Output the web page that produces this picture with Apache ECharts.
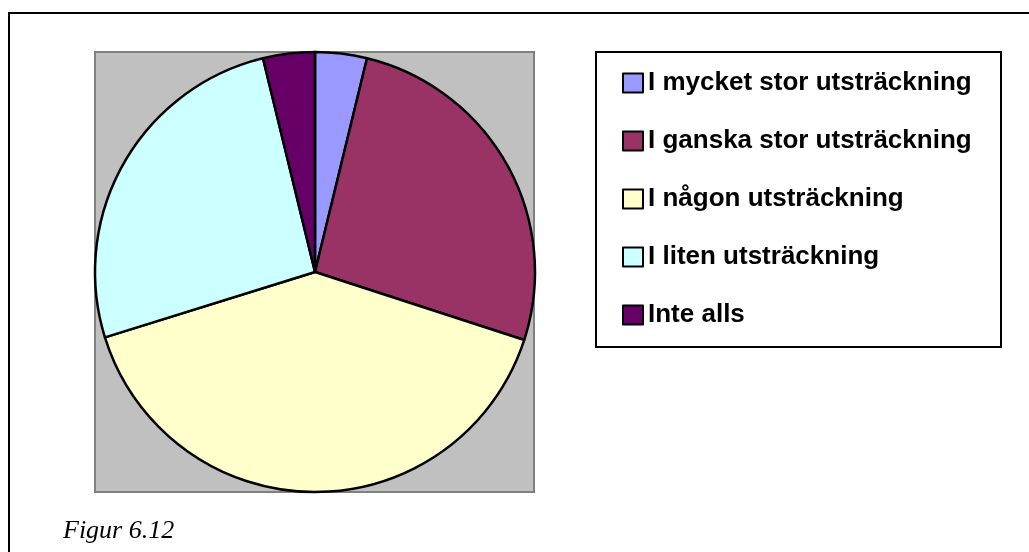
<!DOCTYPE html>
<html>
<head>
<meta charset="utf-8">
<script src="https://cdn.jsdelivr.net/npm/echarts@6/dist/echarts.min.js"></script>
<style>
  html, body { margin: 0; padding: 0; background: #fff; }
  #chart { width: 1029px; height: 552px; }
</style>
</head>
<body>
<div id="chart"></div>
<script>
// svarskategorier och andelar (%)
const categories = [
  'I mycket stor utsträckning',
  'I ganska stor utsträckning',
  'I någon utsträckning',
  'I liten utsträckning',
  'Inte alls'
]
const shares = [3.8, 26.2, 40.2, 26.0, 3.8]
const colors = ['#9999FF', '#993366', '#FFFFCC', '#CCFFFF', '#660066']
const caption = 'Figur 6.12'

const chart = echarts.init(document.getElementById('chart'))

chart.setOption({
  animation: false,
  backgroundColor: '#fff',
  color: colors,
  graphic: [
    // yttre ram (bara övre och vänster kant syns)
    {
      type: 'rect',
      shape: { x: 9, y: 13, width: 1100, height: 600 },
      style: { fill: 'none', stroke: '#000', lineWidth: 2 },
      z: 0
    },
    // grå plotyta
    {
      type: 'rect',
      shape: { x: 95, y: 52, width: 439, height: 440 },
      style: { fill: '#C0C0C0', stroke: '#808080', lineWidth: 2 },
      z: 0
    },
    // legendruta
    {
      type: 'rect',
      shape: { x: 596, y: 52, width: 405, height: 295 },
      style: { fill: '#fff', stroke: '#000', lineWidth: 2 },
      z: 0
    },
    {
      type: 'text',
      left: 63,
      top: 518,
      style: {
        text: caption,
        font: 'italic 26px "Liberation Serif"',
        fill: '#000'
      }
    }
  ],
  legend: {
    orient: 'vertical',
    left: 622,
    top: 70,
    padding: 0,
    icon: 'rect',
    itemWidth: 20,
    itemHeight: 19,
    itemGap: 32,
    selectedMode: false,
    itemStyle: { borderColor: '#000', borderWidth: 2 },
    textStyle: {
      fontFamily: 'Liberation Sans',
      fontWeight: 'bold',
      fontSize: 26,
      color: '#000'
    },
    data: categories
  },
  series: [{
    type: 'pie',
    center: [315, 272],
    radius: 220,
    startAngle: 90,
    clockwise: true,
    label: { show: false },
    labelLine: { show: false },
    emphasis: { disabled: true },
    itemStyle: { borderColor: '#000', borderWidth: 2.5 },
    data: categories.map((name, i) => ({ name: name, value: shares[i] }))
  }]
})
</script>
</body>
</html>
